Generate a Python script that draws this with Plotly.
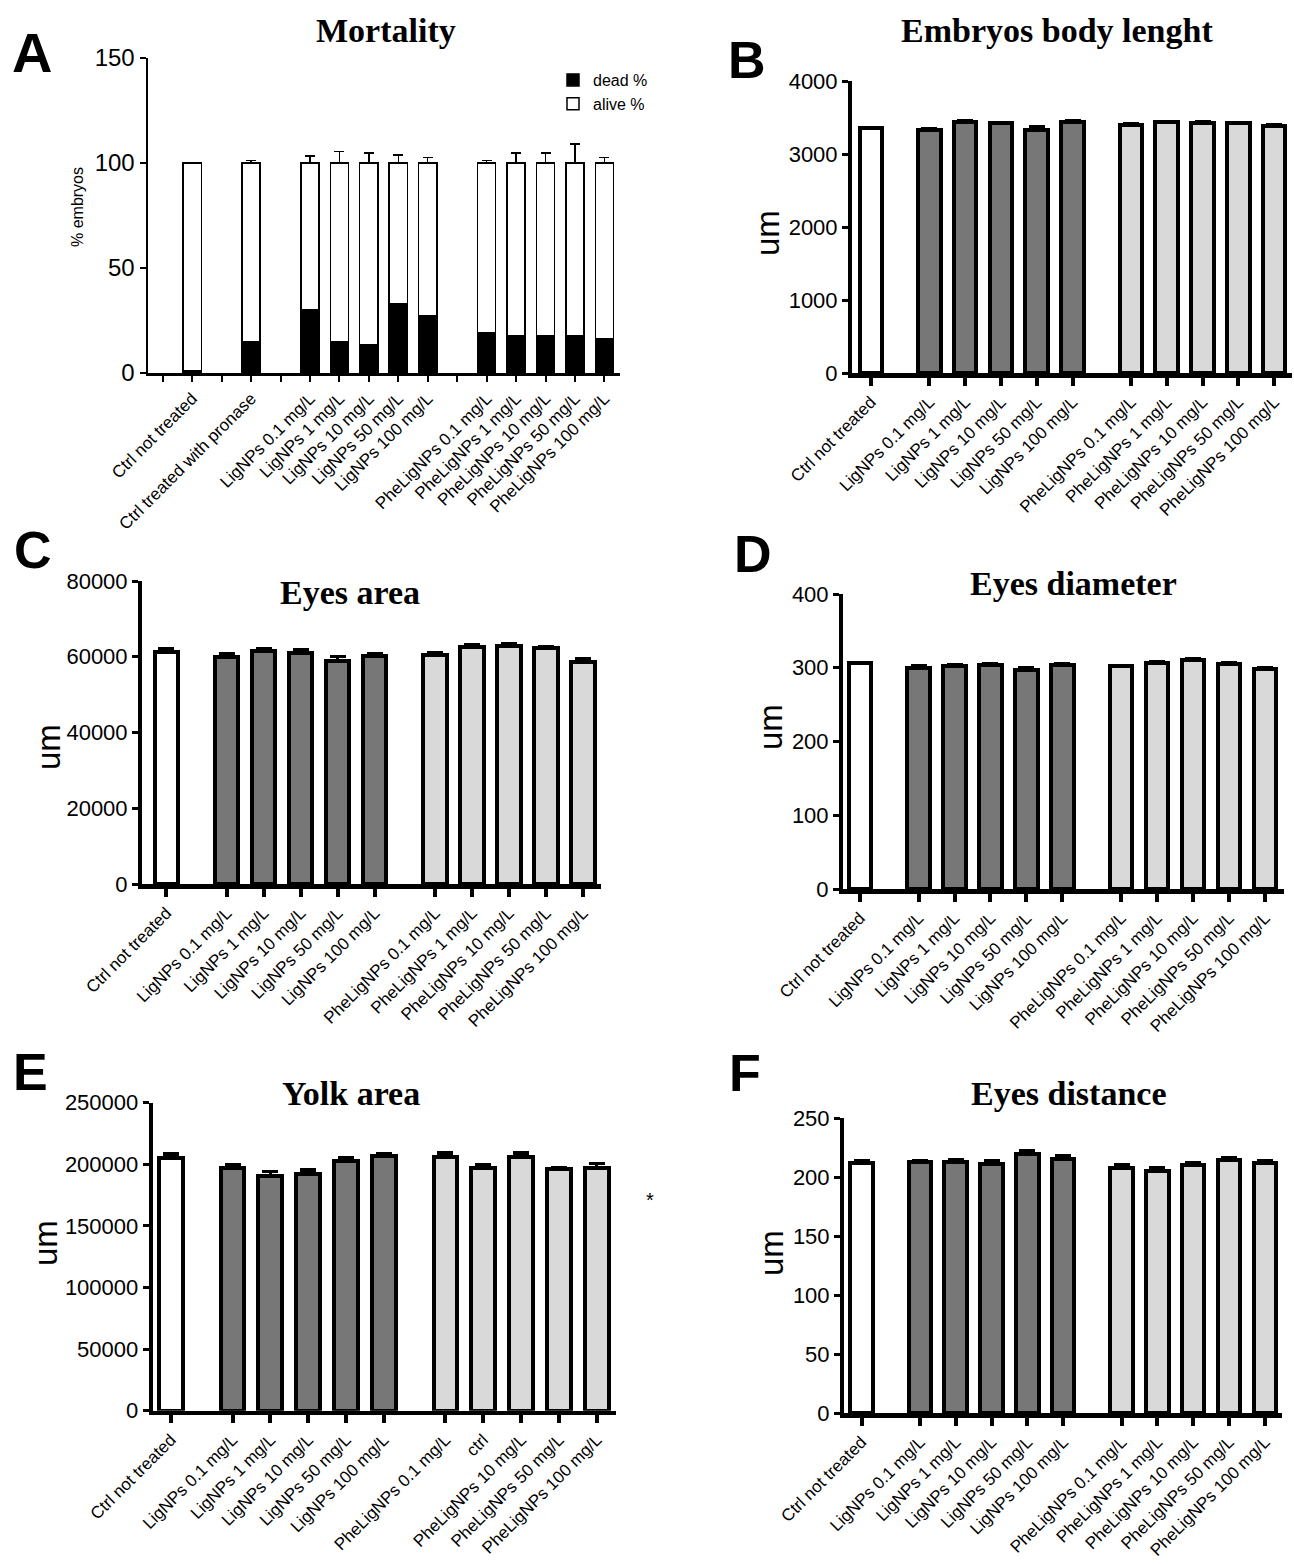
import plotly.graph_objects as go

W, H = 1294, 1564

# ---------------- Panel A data (Mortality) ----------------
a_labels = ["", "Ctrl not treated", "", "Ctrl treated with pronase", "",
            "LigNPs 0.1 mg/L", "LigNPs 1 mg/L", "LigNPs 10 mg/L", "LigNPs 50 mg/L", "LigNPs 100 mg/L", "",
            "PheLigNPs 0.1 mg/L", "PheLigNPs 1 mg/L", "PheLigNPs 10 mg/L", "PheLigNPs 50 mg/L", "PheLigNPs 100 mg/L"]
a_dead = [1.0, 14.8, 30.2, 14.8, 13.5, 32.8, 27.4, 19.1, 17.7, 17.7, 17.7, 16.3]
a_dead_err = [0.5, 1.6, 3.7, 5.9, 5.3, 4.6, 3.1, 1.6, 5.0, 5.0, 9.3, 2.7]
a_alive = [99.0, 85.2, 69.8, 85.2, 86.5, 67.2, 72.6, 80.9, 82.3, 82.3, 82.3, 83.7]
a_alive_err = [0.3, 1.2, 3.4, 5.5, 4.7, 3.9, 2.6, 1.2, 4.7, 4.7, 9.0, 2.6]

# ---------------- Panels B-F data ----------------
labels = ["Ctrl not treated",
          "LigNPs 0.1 mg/L", "LigNPs 1 mg/L", "LigNPs 10 mg/L", "LigNPs 50 mg/L", "LigNPs 100 mg/L",
          "PheLigNPs 0.1 mg/L", "PheLigNPs 1 mg/L", "PheLigNPs 10 mg/L", "PheLigNPs 50 mg/L", "PheLigNPs 100 mg/L"]
e_labels = ["Ctrl not treated",
            "LigNPs 0.1 mg/L", "LigNPs 1 mg/L", "LigNPs 10 mg/L", "LigNPs 50 mg/L", "LigNPs 100 mg/L",
            "PheLigNPs 0.1 mg/L", "ctrl", "PheLigNPs 10 mg/L", "PheLigNPs 50 mg/L", "PheLigNPs 100 mg/L"]
groups = ["ctrl", "lig", "lig", "lig", "lig", "lig", "phe", "phe", "phe", "phe", "phe"]

b_vals = [3353, 3330, 3435, 3422, 3335, 3435, 3403, 3435, 3426, 3422, 3390]
b_err = [10, 20, 15, 12, 35, 20, 10, 10, 10, 10, 15]
c_vals = [61360, 60040, 61620, 61010, 58990, 60130, 60570, 62680, 62940, 62240, 58720]
c_err = [700, 880, 440, 790, 1050, 610, 440, 530, 620, 530, 880]
d_vals = [305.9, 300.0, 302.2, 303.5, 296.8, 303.5, 302.2, 305.9, 310.4, 304.5, 297.7]
d_err = [1.4, 2.1, 1.4, 1.8, 3.0, 1.4, 1.0, 1.8, 1.4, 1.8, 2.2]
e_vals = [204900, 197300, 190800, 192100, 202700, 206700, 206200, 197300, 206200, 195900, 197300]
e_err = [3500, 2700, 3250, 3250, 3000, 2200, 3000, 2400, 3000, 1600, 3250]
f_vals = [212.1, 212.6, 212.9, 210.6, 219.4, 215.5, 207.5, 204.7, 210.1, 214.3, 212.1]
f_err = [1.9, 1.4, 1.4, 2.9, 3.1, 2.8, 2.6, 2.8, 1.7, 2.3, 1.4]

group_colors = {"ctrl": "#ffffff", "lig": "#777777", "phe": "#d9d9d9"}
GAP = 1.63

# bar positions from group structure
positions = []
p = 0.0
for i, g in enumerate(groups):
    if i > 0:
        p += GAP if g != groups[i - 1] else 1.0
    positions.append(round(p, 3))

a_pos = [i for i, l in enumerate(a_labels) if l]

SANS = "Liberation Sans, Arial, sans-serif"
SERIF = "Liberation Serif, Times New Roman, serif"

def dom_x(x0, x1):
    return [x0 / W, x1 / W]

def dom_y(ytop, ybot):
    return [1 - ybot / H, 1 - ytop / H]

fig = go.Figure()

# Panel A traces (stacked)
fig.add_trace(go.Bar(
    x=a_pos, y=a_dead, name="dead %", width=0.62,
    marker=dict(color="black", line=dict(color="black", width=1.5)),
    error_y=dict(type="data", array=a_dead_err, arrayminus=[0] * len(a_dead_err), symmetric=False,
                 color="black", thickness=1.5, width=5),
    xaxis="x", yaxis="y"))
fig.add_trace(go.Bar(
    x=a_pos, y=a_alive, name="alive %", width=0.62,
    marker=dict(color="white", line=dict(color="black", width=1.5)),
    error_y=dict(type="data", array=a_alive_err, arrayminus=[0] * len(a_alive_err), symmetric=False,
                 color="black", thickness=1.5, width=5),
    xaxis="x", yaxis="y"))

panels = [
    # key, values, errors, labels, xdomain px, ydomain px, xrange, ymax, dtick
    ("2", b_vals, b_err, labels, (852, 1292), (81, 373), (-0.53, 11.76), 4000, 1000),
    ("3", c_vals, c_err, labels, (142, 601), (581, 884), (-0.66, 11.75), 80000, 20000),
    ("4", d_vals, d_err, labels, (843, 1284), (594, 889), (-0.47, 11.79), 400, 100),
    ("5", e_vals, e_err, e_labels, (152.7, 616), (1102.7, 1410.7), (-0.48, 11.77), 250000, 50000),
    ("6", f_vals, f_err, labels, (844, 1282), (1118, 1413), (-0.49, 11.74), 250, 50),
]

layout_axes = {}
for key, vals, errs, labs, xd, yd, xr, ymax, dt in panels:
    fig.add_trace(go.Bar(
        x=positions, y=vals, width=0.63, showlegend=False,
        marker=dict(color=[group_colors[g] for g in groups], line=dict(color="black", width=4)),
        error_y=dict(type="data", array=errs, arrayminus=[0] * len(errs), symmetric=False,
                     color="black", thickness=3.5, width=8),
        xaxis="x" + key, yaxis="y" + key))
    layout_axes["xaxis" + key] = dict(
        domain=dom_x(*xd), anchor="y" + key, range=list(xr), automargin=False,
        tickmode="array", tickvals=positions, ticktext=labs, tickangle=-45,
        ticks="outside", ticklen=8, tickwidth=4, tickcolor="black",
        showline=True, linewidth=4.5, linecolor="black", showgrid=False, zeroline=False,
        tickfont=dict(family=SANS, size=17, color="black"))
    layout_axes["yaxis" + key] = dict(
        domain=dom_y(*yd), anchor="x" + key, range=[0, ymax], dtick=dt, tick0=0, automargin=False,
        tickformat="d", ticks="outside", ticklen=6, tickwidth=3, tickcolor="black",
        showline=True, linewidth=4, linecolor="black", showgrid=False, zeroline=False,
        tickfont=dict(family=SANS, size=22, color="black"))

layout_axes["xaxis"] = dict(
    domain=dom_x(148, 620), anchor="y", range=[-0.5, 15.53], automargin=False,
    tickmode="array", tickvals=list(range(len(a_labels))), ticktext=a_labels, tickangle=-45,
    ticks="outside", ticklen=6, tickwidth=2, tickcolor="black",
    showline=True, linewidth=3, linecolor="black", showgrid=False, zeroline=False,
    tickfont=dict(family=SANS, size=17, color="black"))
layout_axes["yaxis"] = dict(
    domain=dom_y(58, 373), anchor="x", range=[0, 150], dtick=50, tick0=0, automargin=False,
    ticks="outside", ticklen=6, tickwidth=2, tickcolor="black",
    showline=True, linewidth=2.5, linecolor="black", showgrid=False, zeroline=False,
    tickfont=dict(family=SANS, size=24, color="black"))

annotations = []
def ann(text, x, y, size, family=SANS, bold=False, angle=0):
    t = "<b>%s</b>" % text if bold else text
    annotations.append(dict(text=t, x=x / W, y=1 - y / H, xref="paper", yref="paper",
                            xanchor="center", yanchor="middle", showarrow=False, textangle=angle,
                            font=dict(family=family, size=size, color="black")))

# panel titles
ann("Mortality", 386, 30, 34, SERIF, True)
ann("Embryos body lenght", 1057, 30, 34, SERIF, True)
ann("Eyes area", 350, 592, 34, SERIF, True)
ann("Eyes diameter", 1073, 583, 34, SERIF, True)
ann("Yolk area", 351, 1093, 34, SERIF, True)
ann("Eyes distance", 1069, 1093, 34, SERIF, True)

# panel letters
ann("A", 32, 52, 56, SANS, True)
ann("B", 747, 60, 52, SANS, True)
ann("C", 33, 550, 52, SANS, True)
ann("D", 753, 554, 52, SANS, True)
ann("E", 31, 1072, 52, SANS, True)
ann("F", 745, 1073, 52, SANS, True)

# y-axis titles
ann("% embryos", 78, 207, 16, SANS, False, -90)
ann("um", 768, 233, 33, SANS, False, -90)
ann("um", 48, 747, 33, SANS, False, -90)
ann("um", 771, 727, 33, SANS, False, -90)
ann("um", 45, 1243, 33, SANS, False, -90)
ann("um", 771, 1253, 33, SANS, False, -90)

# stray asterisk in panel E
ann("*", 650, 1200, 20, SANS)

fig.update_layout(
    template="none",
    width=W, height=H, autosize=False,
    margin=dict(l=0, r=0, t=0, b=0, pad=0),
    paper_bgcolor="white", plot_bgcolor="white",
    barmode="stack",
    showlegend=True,
    legend=dict(x=553 / W, y=1 - 63 / H, xanchor="left", yanchor="top", traceorder="normal",
                bgcolor="rgba(0,0,0,0)", font=dict(family=SANS, size=16, color="black"),
                tracegroupgap=0, itemwidth=30),
    annotations=annotations,
    **layout_axes,
)

fig.write_html("out.html", config={"displayModeBar": False, "staticPlot": True},
               post_script="document.body.style.margin='0px';")
